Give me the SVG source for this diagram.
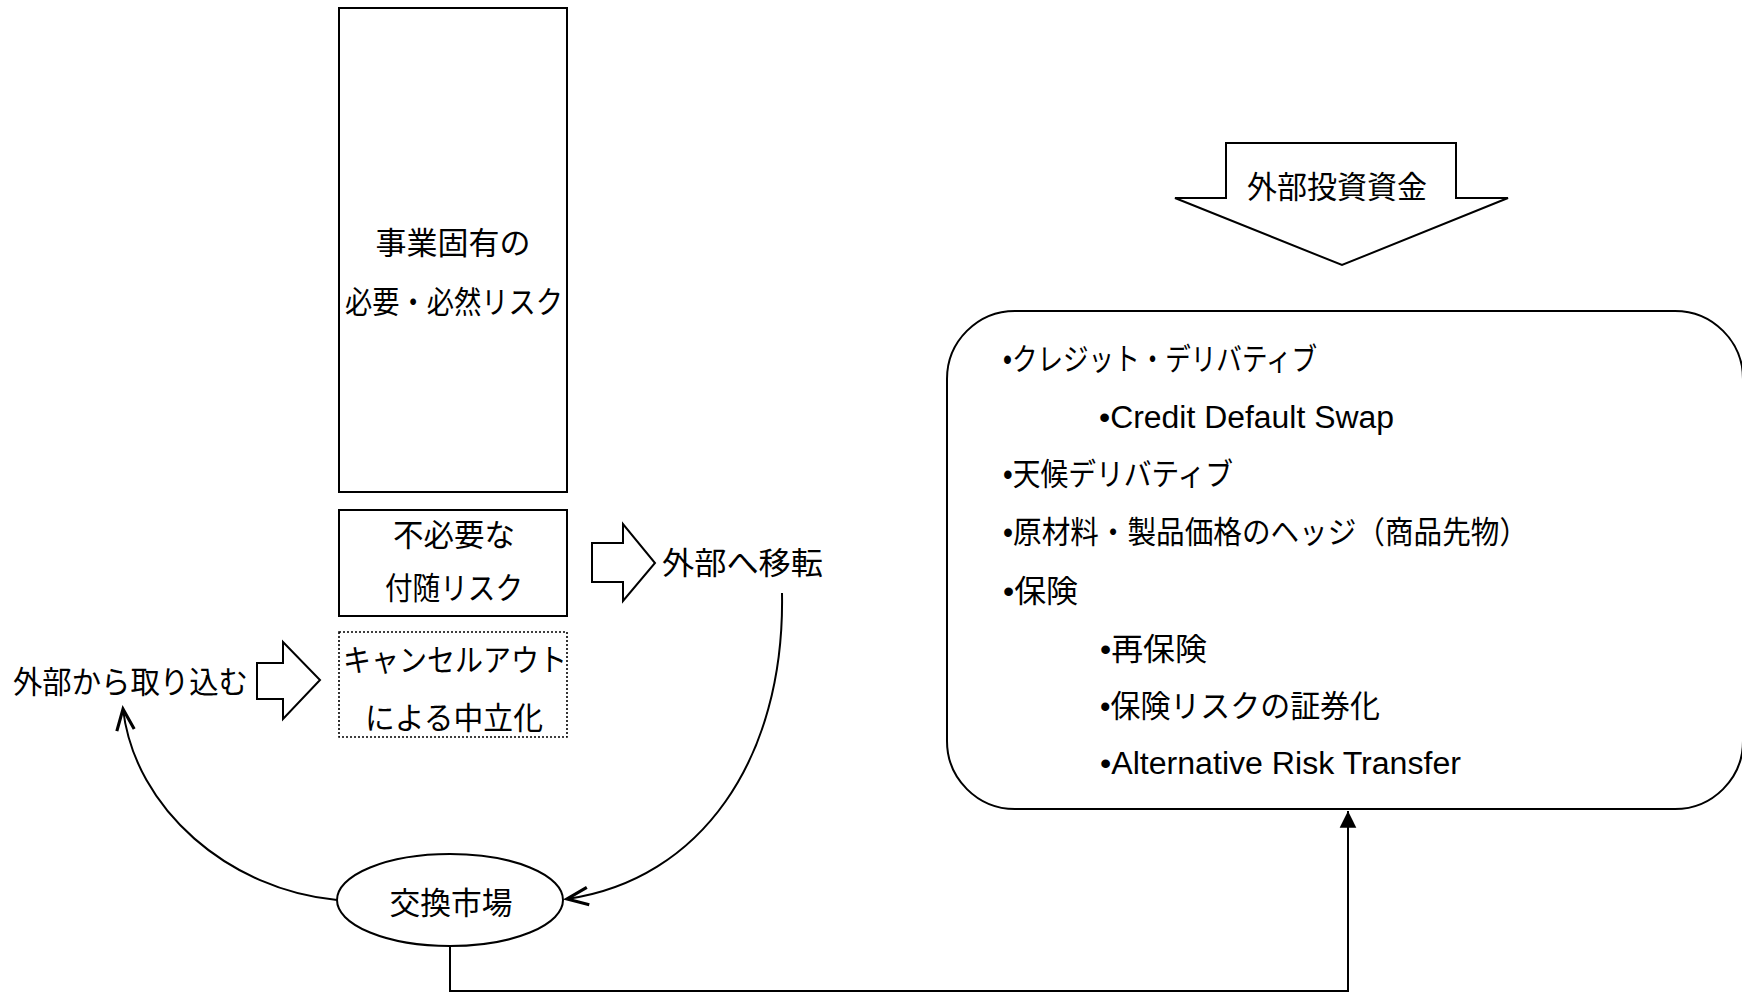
<svg xmlns="http://www.w3.org/2000/svg" width="1742" height="993" viewBox="0 0 1742 993">
<style>
text{font-family:"Liberation Sans","Noto Sans CJK JP",sans-serif;font-size:31px;fill:#000;dominant-baseline:central}
.c{text-anchor:middle}
.s{fill:#fff;stroke:#000;stroke-width:2}
.dot{fill:#fff;stroke:#000;stroke-width:1.6;stroke-dasharray:2 2}
.ln{fill:none;stroke:#000;stroke-width:2}
</style>
<defs>
<marker id="open" markerUnits="userSpaceOnUse" markerWidth="30" markerHeight="30" viewBox="-20 -10 24 20" refX="0" refY="0" orient="auto">
<path d="M-17,-7 L0,0 L-17,7" fill="none" stroke="#000" stroke-width="2.5"/>
</marker>
<marker id="tri" markerUnits="userSpaceOnUse" markerWidth="20" markerHeight="20" viewBox="-16 -9 18 18" refX="0" refY="0" orient="auto">
<path d="M0,0 L-15,-7.5 L-15,7.5 Z" fill="#000"/>
</marker>
</defs>
<rect width="1742" height="993" fill="#fff"/>
<g id="connectors">
<path class="ln" d="M782,593 C785,760 700,880 567,899" marker-end="url(#open)"/>
<path class="ln" d="M337,900 C230,890 135,810 123,709" marker-end="url(#open)"/>
<path class="ln" d="M450,946 V991 H1348 V811" marker-end="url(#tri)"/>
</g>
<g id="core-risk">
<rect class="s" x="339" y="8" width="228" height="484"/>
<text class="c" x="453" y="243" textLength="155" lengthAdjust="spacingAndGlyphs">事業固有の</text>
<text class="c" x="454" y="302" textLength="218" lengthAdjust="spacingAndGlyphs">必要・必然リスク</text>
</g>
<g id="incidental-risk">
<rect class="s" x="339" y="510" width="228" height="106"/>
<text class="c" x="454" y="535" textLength="122" lengthAdjust="spacingAndGlyphs">不必要な</text>
<text class="c" x="454" y="588" textLength="138" lengthAdjust="spacingAndGlyphs">付随リスク</text>
</g>
<g id="cancel-out">
<rect class="dot" x="339" y="632" width="228" height="105"/>
<text class="c" x="455" y="660" textLength="224" lengthAdjust="spacingAndGlyphs">キャンセルアウト</text>
<text class="c" x="454" y="718" textLength="178" lengthAdjust="spacingAndGlyphs">による中立化</text>
</g>
<g id="transfer-out">
<path class="s" d="M592,543 H623 V524 L655,563 L623,601 V582 H592 Z"/>
<text x="662" y="563" textLength="161" lengthAdjust="spacingAndGlyphs">外部へ移転</text>
</g>
<g id="take-in">
<text x="13" y="682" textLength="235" lengthAdjust="spacingAndGlyphs">外部から取り込む</text>
<path class="s" d="M257,663 H283 V642 L320,680 L283,719 V699 H257 Z"/>
</g>
<g id="exchange-market">
<ellipse class="s" cx="450" cy="900" rx="113" ry="46"/>
<text class="c" x="451" y="903" textLength="123" lengthAdjust="spacingAndGlyphs">交換市場</text>
</g>
<g id="external-funds">
<path class="s" d="M1226,143 H1456 V198 H1508 L1342,265 L1175,198 H1226 Z"/>
<text class="c" x="1337" y="187" textLength="180" lengthAdjust="spacingAndGlyphs">外部投資資金</text>
</g>
<g id="instruments">
<rect class="s" x="947" y="311" width="796" height="498" rx="68" ry="68"/>
<text x="1003" y="359" textLength="314" lengthAdjust="spacingAndGlyphs">•クレジット・デリバティブ</text>
<text x="1099" y="417" textLength="295" lengthAdjust="spacingAndGlyphs">•Credit Default Swap</text>
<text x="1003" y="474" textLength="230" lengthAdjust="spacingAndGlyphs">•天候デリバティブ</text>
<text x="1003" y="532" textLength="525" lengthAdjust="spacingAndGlyphs">•原材料・製品価格のヘッジ（商品先物）</text>
<text x="1003" y="591" textLength="75" lengthAdjust="spacingAndGlyphs">•保険</text>
<text x="1100" y="649" textLength="107" lengthAdjust="spacingAndGlyphs">•再保険</text>
<text x="1100" y="706" textLength="280" lengthAdjust="spacingAndGlyphs">•保険リスクの証券化</text>
<text x="1100" y="763" textLength="361" lengthAdjust="spacingAndGlyphs">•Alternative Risk Transfer</text>
</g>
</svg>
